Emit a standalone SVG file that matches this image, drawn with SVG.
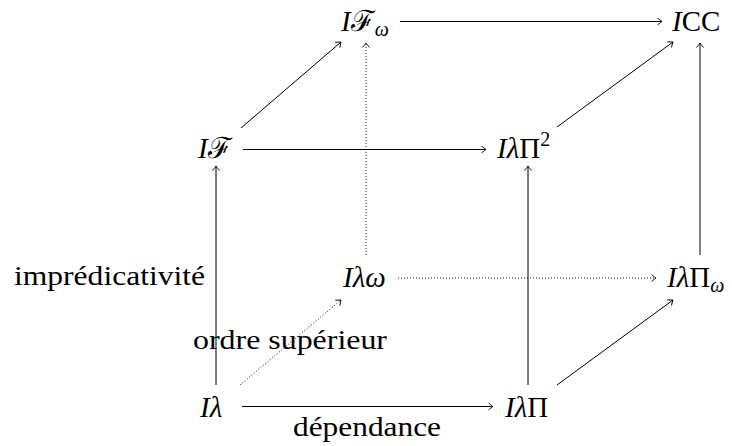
<svg xmlns="http://www.w3.org/2000/svg" width="732" height="446" viewBox="0 0 732 446">
<defs>
<style>
.n{font-family:'Liberation Serif','DejaVu Serif',serif;font-size:29px;fill:#000}
.m{font-style:italic}
.s{font-size:20px;font-style:italic}
.e{stroke:#000;stroke-width:1;fill:none;marker-end:url(#arr)}
.d{stroke:#000;stroke-width:0.9;fill:none;stroke-dasharray:1 2;marker-end:url(#arr)}
</style>
<marker id="arr" viewBox="-6 -5 8 10" refX="0" refY="0" markerWidth="8" markerHeight="10" markerUnits="userSpaceOnUse" orient="auto">
<path d="M-4.5,-3.5 Q-1.2,-0.8 0,0 Q-1.2,0.8 -4.5,3.5" stroke="#000" stroke-width="0.9" fill="none" stroke-dasharray="none"/>
</marker>
</defs>
<rect width="732" height="446" fill="#fff"/>
<g id="connectors">
<line class="e" x1="242" y1="406.5" x2="493" y2="406.5"/>
<line class="e" x1="216" y1="385" x2="216" y2="166"/>
<line class="d" x1="240" y1="385" x2="341" y2="300"/>
<line class="e" x1="528" y1="385" x2="528" y2="166"/>
<line class="e" x1="557" y1="385" x2="673" y2="300"/>
<line class="d" x1="398" y1="278" x2="656" y2="278"/>
<line class="d" x1="366" y1="255" x2="366" y2="43"/>
<line class="e" x1="700" y1="255" x2="700" y2="43"/>
<line class="e" x1="243" y1="149.5" x2="486" y2="149.5"/>
<line class="e" x1="241" y1="128" x2="341" y2="42"/>
<line class="e" x1="557" y1="127" x2="673" y2="42"/>
<line class="e" x1="400" y1="21.5" x2="662" y2="21.5"/>
</g>
<g id="n-Ilambda"><text class="n" x="200" y="417"><tspan class="m">Iλ</tspan></text></g>
<g id="n-IlambdaPi"><text class="n" x="505" y="417"><tspan class="m">Iλ</tspan>Π</text></g>
<g id="n-Ilambdaomega"><text class="n" x="343" y="287"><tspan class="m">Iλω</tspan></text></g>
<g id="n-IlambdaPiomega"><text class="n" x="667" y="287"><tspan class="m">Iλ</tspan>Π<tspan class="s" dy="5">ω</tspan></text></g>
<g id="n-IF"><text class="n" x="198" y="158"><tspan class="m">I</tspan><tspan>ℱ</tspan></text></g>
<g id="n-IlambdaPi2"><text class="n" x="497" y="158"><tspan class="m">Iλ</tspan>Π<tspan font-size="20" dy="-12">2</tspan></text></g>
<g id="n-IFomega"><text class="n" x="341" y="31"><tspan class="m">I</tspan><tspan>ℱ</tspan><tspan class="s" dy="5">ω</tspan></text></g>
<g id="n-ICC"><text class="n" x="672" y="31"><tspan class="m">I</tspan>CC</text></g>
<g id="labels" font-family="Liberation Serif, serif" font-size="27" fill="#000">
<text x="14" y="285" textLength="191" lengthAdjust="spacingAndGlyphs">imprédicativité</text>
<text x="193" y="349" textLength="194" lengthAdjust="spacingAndGlyphs">ordre supérieur</text>
<text x="293" y="436" textLength="148" lengthAdjust="spacingAndGlyphs">dépendance</text>
</g>
</svg>
